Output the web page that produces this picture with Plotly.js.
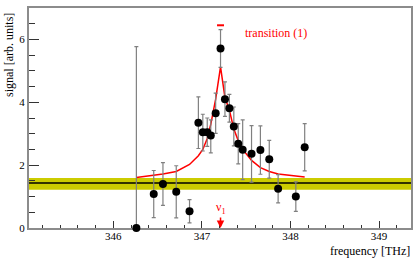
<!DOCTYPE html>
<html>
<head>
<meta charset="utf-8">
<script src="https://cdn.plot.ly/plotly-3.0.1.min.js"></script>
<style>html,body{margin:0;padding:0;background:#fff}#chart{width:415px;height:260px}</style>
</head>
<body>
<div id="chart"></div>
<script>
// measured data points
const freq = [346.26, 346.456, 346.56, 346.71, 346.86, 346.96, 347.01, 347.06, 347.10, 347.155, 347.21, 347.26, 347.31, 347.36, 347.41, 347.46, 347.56, 347.66, 347.76, 347.86, 348.06, 348.16];
const signal = [0, 1.08, 1.40, 1.15, 0.53, 3.35, 3.05, 3.05, 2.94, 3.65, 5.71, 4.10, 3.81, 3.23, 2.68, 2.49, 2.36, 2.48, 2.19, 1.25, 1.00, 2.57];
const errUp = [5.77, 0.75, 0.68, 0.83, 0.37, 0.82, 0.57, 0.45, 0.5, 0.64, 0.6, 0.55, 0.44, 0.62, 0.64, 0.95, 0.9, 0.77, 0.6, 0.45, 0.47, 0.75];
const errDown = [0, 0.75, 0.68, 0.83, 0.37, 0.82, 0.6, 0.45, 0.55, 0.64, 0.6, 0.55, 0.44, 0.62, 0.64, 0.95, 0.9, 0.77, 0.6, 0.45, 0.47, 0.75];

// fitted transition curve
const fitFreq = [346.26, 346.46, 346.56, 346.71, 346.86, 346.96, 347.01, 347.06, 347.10, 347.155, 347.21, 347.26, 347.31, 347.36, 347.41, 347.46, 347.56, 347.66, 347.76, 347.86, 348.06, 348.16];
const fitSignal = [1.61, 1.68, 1.72, 1.80, 2.02, 2.30, 2.50, 2.85, 3.30, 4.10, 5.13, 4.15, 3.75, 3.15, 2.78, 2.50, 2.15, 1.92, 1.80, 1.72, 1.65, 1.62];

// background level and band
const bgLevel = 1.43;
const bgLow = 1.22;
const bgHigh = 1.59;

// transition centre
const centreFreq = 347.21;
const centreMarkY = 6.45;
const transitionLabel = "transition (1)";
const transitionLabelPos = [347.46, 6.19];

const serif = "Liberation Serif, Times New Roman, serif";
const red = "#ff0000";

const traces = [
  {
    x: fitFreq, y: fitSignal, type: "scatter", mode: "lines",
    line: {color: red, width: 1.5}, hoverinfo: "skip"
  },
  {
    x: freq, y: signal, type: "scatter", mode: "markers",
    cliponaxis: false,
    marker: {color: "#000", size: 8},
    error_y: {type: "data", symmetric: false, array: errUp, arrayminus: errDown,
              color: "#808080", thickness: 1.2, width: 2}
  },
  {
    x: [centreFreq], y: [centreMarkY], type: "scatter", mode: "markers",
    marker: {symbol: "line-ew-open", size: 5, color: red, line: {color: red, width: 2}}
  }
];

const axisCommon = {
  showgrid: false, zeroline: false, showline: true, mirror: true,
  linecolor: "#8c8c8c", linewidth: 2, layer: "below traces",
  ticks: "inside", tickcolor: "#333", tickwidth: 1,
  tickfont: {family: serif, size: 11, color: "#000"}
};

const layout = {
  width: 415, height: 260,
  margin: {l: 29, r: 4, t: 8, b: 32},
  paper_bgcolor: "#fff", plot_bgcolor: "#fff",
  showlegend: false,
  xaxis: Object.assign({}, axisCommon, {
    range: [345.048, 349.36], tickvals: [346, 347, 348, 349],
    ticklen: 7, ticklabelstandoff: -3,
    minor: {dtick: 0.2, tick0: 346, ticks: "inside", ticklen: 3.5, tickcolor: "#333", tickwidth: 1}
  }),
  yaxis: Object.assign({}, axisCommon, {
    range: [0, 7], tickvals: [0, 2, 4, 6],
    ticklen: 10,
    minor: {dtick: 0.5, tick0: 0, ticks: "inside", ticklen: 5.5, tickcolor: "#333", tickwidth: 1}
  }),
  shapes: [
    {type: "rect", xref: "paper", yref: "y", x0: 0, x1: 1, y0: bgLow, y1: bgHigh,
     fillcolor: "#cccc00", line: {width: 0}, layer: "below"},
    {type: "line", xref: "paper", yref: "y", x0: 0, x1: 1, y0: bgLevel, y1: bgLevel,
     line: {color: "#000", width: 1.5}, layer: "below"}
  ],
  annotations: [
    {x: transitionLabelPos[0], y: transitionLabelPos[1], xref: "x", yref: "y",
     text: transitionLabel, showarrow: false, xanchor: "left", yanchor: "middle",
     font: {family: serif, size: 12, color: red}},
    {x: centreFreq, y: 0, xref: "x", yref: "y", text: "ν<sub>1</sub>",
     showarrow: true, ax: 0, ay: -20, arrowcolor: red, arrowwidth: 1.5, arrowhead: 2,
     arrowsize: 1, standoff: 0, font: {family: serif, size: 12, color: red}},
    {x: 1, y: 0, xref: "paper", yref: "paper", xanchor: "right", yanchor: "middle",
     xshift: 1, yshift: -23, text: "frequency [THz]", showarrow: false,
     font: {family: serif, size: 12, color: "#000"}},
    {x: 0, y: 1, xref: "paper", yref: "paper", xanchor: "center", yanchor: "top",
     xshift: -20, yshift: -3, textangle: -90, text: "signal [arb. units]", showarrow: false,
     font: {family: serif, size: 12, color: "#000"}}
  ]
};

Plotly.newPlot("chart", traces, layout, {staticPlot: true, displayModeBar: false});
</script>
</body>
</html>
